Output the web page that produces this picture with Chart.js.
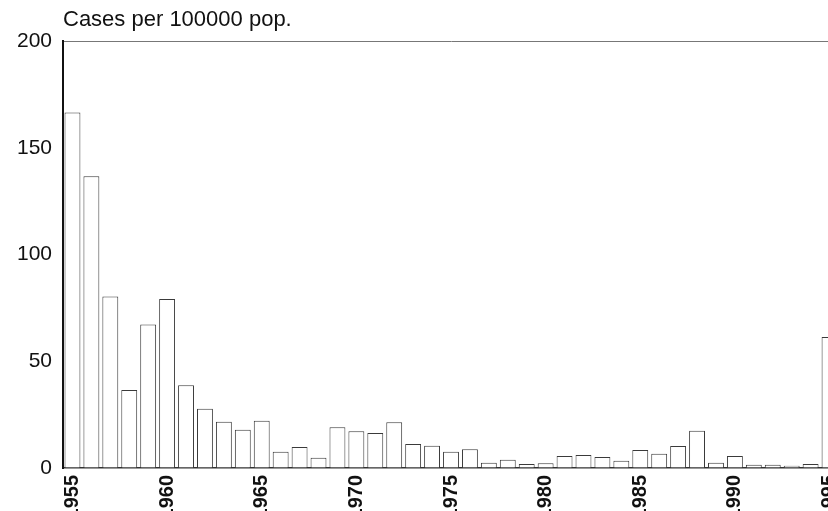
<!DOCTYPE html>
<html>
<head>
<meta charset="utf-8">
<script src="https://cdn.jsdelivr.net/npm/chart.js@4/dist/chart.umd.min.js"></script>
<style>
  html, body { margin: 0; padding: 0; background: #fff; overflow: hidden; }
  #wrap { position: absolute; left: 0; top: 0; width: 850px; height: 511px; }
</style>
</head>
<body>
<div id="wrap"><canvas id="casesChart"></canvas></div>
<script>
// yearly incidence
const years = ['1955','1956','1957','1958','1959','1960','1961','1962','1963','1964',
  '1965','1966','1967','1968','1969','1970','1971','1972','1973','1974',
  '1975','1976','1977','1978','1979','1980','1981','1982','1983','1984',
  '1985','1986','1987','1988','1989','1990','1991','1992','1993','1994','1995'];
const cases = [166.7, 136.8, 80.4, 36.6, 67.3, 79.2, 38.8, 27.8, 21.7, 17.9,
  22.2, 7.6, 9.8, 4.8, 19.1, 17.2, 16.4, 21.4, 11.3, 10.4,
  7.6, 8.8, 2.5, 3.9, 1.9, 2.2, 5.6, 6.1, 5.2, 3.4,
  8.4, 6.7, 10.3, 17.5, 2.5, 5.6, 1.5, 1.5, 1.1, 1.9, 61.4];
const shownYears = ['1955','1960','1965','1970','1975','1980','1985','1990','1995'];
const yTicks = [0, 50, 100, 150, 200];

const casesChart = new Chart("casesChart", {
  type: "bar",
  data: {
    labels: years,
    datasets: [{
      data: cases,
      backgroundColor: "#ffffff",
      borderColor: "#3a3a3a",
      borderWidth: 1,
      barPercentage: 0.84,
      categoryPercentage: 1
    }]
  },
  options: {
    responsive: true,
    maintainAspectRatio: false,
    animation: false,
    layout: { padding: { left: 0, right: 11, top: 0, bottom: 0 } },
    plugins: {
      legend: { display: false },
      tooltip: { enabled: false },
      title: {
        display: true,
        text: "Cases per 100000 pop.",
        align: "start",
        fullSize: false,
        color: "#111",
        font: { family: "Liberation Sans", size: 22, weight: "normal" },
        padding: { top: 7, bottom: 8 }
      }
    },
    scales: {
      x: {
        grid: { display: false, drawTicks: false },
        border: { display: true, color: "#333", width: 1.5 },
        ticks: {
          autoSkip: false,
          maxRotation: 90,
          minRotation: 90,
          padding: 7,
          color: "#111",
          font: { family: "Liberation Sans", size: 20, weight: "bold" },
          callback: function (v) {
            const lab = this.getLabelForValue(v);
            return shownYears.includes(lab) ? lab : "";
          }
        },
        afterFit: function (s) { s.height = 43; s.paddingLeft = 0; s.paddingRight = 0; }
      },
      y: {
        min: 0,
        max: 200,
        afterBuildTicks: function (s) { s.ticks = yTicks.map(v => ({ value: v })); },
        grid: {
          drawTicks: false,
          lineWidth: 1,
          color: ctx => (ctx.tick && ctx.tick.value === 200 ? "#777" : "rgba(0,0,0,0)")
        },
        border: { display: true, color: "#111", width: 2 },
        ticks: {
          padding: 11,
          color: "#111",
          font: { family: "Liberation Sans", size: 21 }
        },
        afterFit: function (s) { s.width = 63; }
      }
    }
  }
});
</script>
</body>
</html>
